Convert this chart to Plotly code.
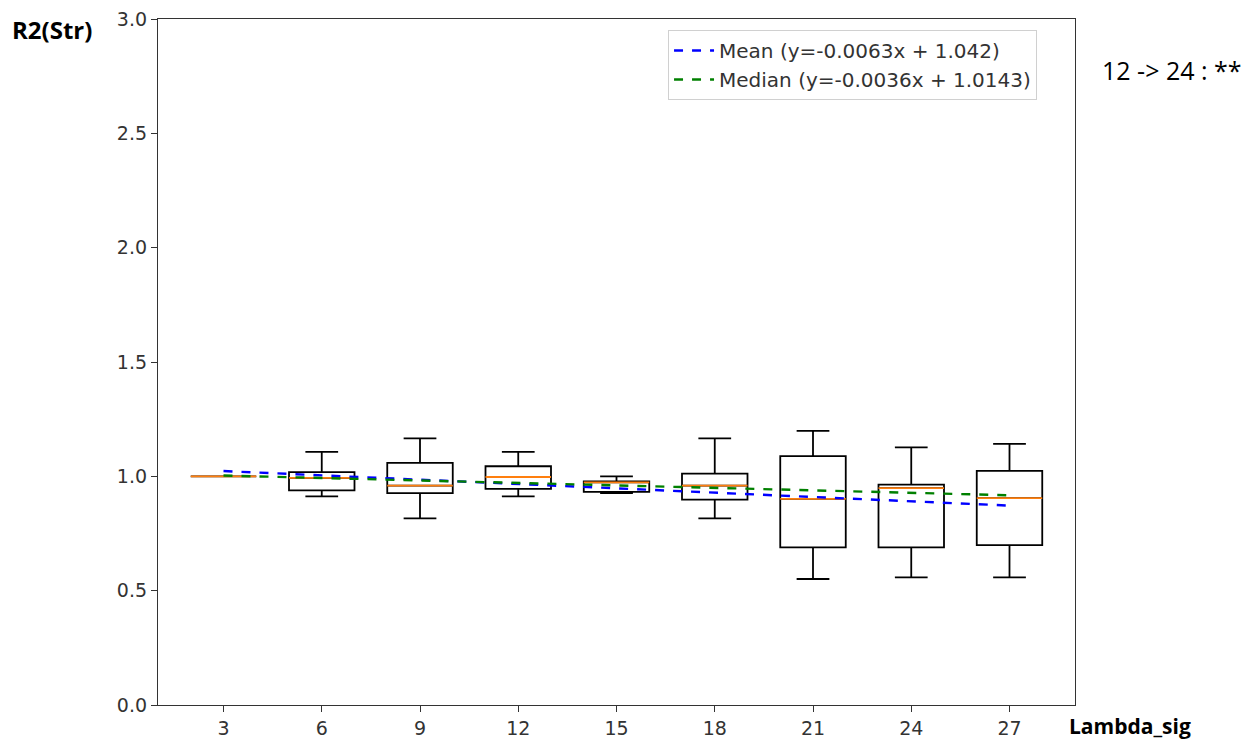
import plotly.graph_objects as go

lambda_sig = [3, 6, 9, 12, 15, 18, 21, 24, 27]
whisker_low = [1.0, 0.912, 0.816, 0.912, 0.927, 0.816, 0.551, 0.558, 0.558]
q1 = [1.0, 0.939, 0.927, 0.945, 0.932, 0.898, 0.689, 0.689, 0.699]
median = [1.0, 0.993, 0.959, 0.997, 0.974, 0.959, 0.901, 0.948, 0.905]
q3 = [1.0, 1.018, 1.059, 1.044, 0.978, 1.012, 1.088, 0.964, 1.024]
whisker_high = [1.0, 1.107, 1.166, 1.107, 1.0, 1.166, 1.199, 1.127, 1.142]

mean_fit = (-0.0063, 1.042)
median_fit = (-0.0036, 1.0143)
box_width = 2

fig = go.Figure()

fig.add_trace(go.Box(
    x=lambda_sig, q1=q1, median=median, q3=q3,
    lowerfence=whisker_low, upperfence=whisker_high,
    width=box_width, whiskerwidth=0.5,
    line=dict(color="black", width=1.8),
    fillcolor="rgba(255,255,255,0)",
    boxpoints=False, showlegend=False, hoverinfo="skip",
))

# orange median lines
mx, my = [], []
for xv, m in zip(lambda_sig, median):
    mx += [xv - box_width / 2, xv + box_width / 2, None]
    my += [m, m, None]
fig.add_trace(go.Scatter(x=mx, y=my, mode="lines",
                         line=dict(color="#ff7f0e", width=1.8),
                         showlegend=False, hoverinfo="skip"))

xs = [lambda_sig[0], lambda_sig[-1]]
fig.add_trace(go.Scatter(
    x=xs, y=[mean_fit[0] * v + mean_fit[1] for v in xs], mode="lines",
    line=dict(color="blue", width=2.4, dash="dash"),
    name="Mean (y=-0.0063x + 1.042)"))
fig.add_trace(go.Scatter(
    x=xs, y=[median_fit[0] * v + median_fit[1] for v in xs], mode="lines",
    line=dict(color="green", width=2.4, dash="dash"),
    name="Median (y=-0.0036x + 1.0143)"))

tick_font = dict(family="DejaVu Sans", size=19, color="#333333")

fig.update_layout(
    width=1250, height=732,
    margin=dict(l=150, r=183, t=11, b=35),
    paper_bgcolor="white", plot_bgcolor="white",
    showlegend=True,
    legend=dict(x=0.9586, y=0.984, xanchor="right", yanchor="top",
                bgcolor="white", bordercolor="#d0d0d0", borderwidth=1,
                font=dict(family="DejaVu Sans", size=20, color="#333333"),
                tracegroupgap=0, itemwidth=40),
    xaxis=dict(range=[1, 29], tickvals=lambda_sig,
               ticktext=[str(v) for v in lambda_sig],
               showgrid=False, zeroline=False, automargin=False,
               ticklabeloverflow="allow",
               showline=True, linecolor="#333333", linewidth=1.3, mirror=True,
               ticks="outside", ticklen=6, tickcolor="#333333",
               tickfont=tick_font),
    yaxis=dict(range=[0, 3], tickvals=[0, 0.5, 1.0, 1.5, 2.0, 2.5, 3.0],
               ticktext=["0.0", "0.5", "1.0", "1.5", "2.0", "2.5", "3.0"],
               showgrid=False, zeroline=False, automargin=False,
               ticklabeloverflow="allow",
               showline=True, linecolor="#333333", linewidth=1.3, mirror=True,
               ticks="outside", ticklen=6, tickcolor="#333333",
               tickfont=tick_font),
    annotations=[
        dict(text="<b>R2(Str)</b>", xref="paper", yref="paper",
             x=-0.1614, y=0.984, xanchor="left", yanchor="middle",
             showarrow=False, font=dict(family="Open Sans", size=24, color="black")),
        dict(text="<b>Lambda_sig</b>", xref="paper", yref="paper",
             x=0.991, y=-0.0306, xanchor="left", yanchor="middle",
             showarrow=False, font=dict(family="Open Sans", size=21, color="black")),
        dict(text="12 -> 24 : **", xref="paper", yref="paper",
             x=1.027, y=0.9257, xanchor="left", yanchor="middle",
             showarrow=False, font=dict(family="Open Sans", size=25, color="black")),
    ],
)

fig.write_html("out.html")
